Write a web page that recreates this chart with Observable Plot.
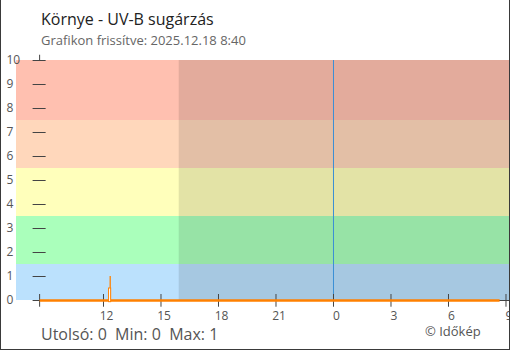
<!DOCTYPE html>
<html>
<head>
<meta charset="utf-8">
<script src="https://cdn.jsdelivr.net/npm/d3@7"></script>
<script src="https://cdn.jsdelivr.net/npm/@observablehq/plot@0.6"></script>
<style>
  html, body { margin: 0; padding: 0; background: #fff; }
  #wrap { position: relative; width: 510px; height: 350px; overflow: hidden; font-family: "Open Sans", sans-serif; }
  #chart { position: absolute; left: 0; top: 0; }
  .t { position: absolute; white-space: nowrap; line-height: 1em; }
  #title { left: 41px; top: 11px; font-size: 16px; color: #222; }
  #sub { left: 41px; top: 33.5px; font-size: 13px; color: #666; }
  #stats { left: 41px; top: 325.5px; font-size: 16px; color: #555; }
  #copy { left: 425px; top: 326px; font-size: 13px; line-height: 0.8em; color: #555; }
  #border { position: absolute; left: 0; top: 0; width: 510px; height: 350px; box-sizing: border-box;
            border-left: 1px solid #3a3a3a; border-right: 1px solid #3a3a3a; border-bottom: 1px solid #3a3a3a; pointer-events: none; }
</style>
</head>
<body>
<div id="wrap">
  <div id="chart"></div>
  <div class="t" id="title">Környe - UV-B sugárzás</div>
  <div class="t" id="sub">Grafikon frissítve: 2025.12.18 8:40</div>
  <div class="t" id="stats">Utolsó: 0&nbsp; Min: 0&nbsp; Max: 1</div>
  <div class="t" id="copy">© Időkép</div>
  <div id="border"></div>
</div>
<script>
// UV zones
const bandLow = [0, 1.5, 3.5, 5.5, 7.5];
const bandHigh = [1.5, 3.5, 5.5, 7.5, 10];
const bandColors = ["#bbe1fd", "#aaffbb", "#ffffbb", "#ffd7bb", "#ffc0b0"];

// time in hours since 2025.12.17 00:00
const domainStart = 7.461;
const domainEnd = 33.183;
const seriesStart = 8.667;   // 8:40
const nightStart = 15.95;    // darker shading begins
const midnight = 24;

// UV-B series (breakpoints)
const seriesHours = [8.667, 12.35, 32.667];
const seriesValues = [0, 1, 0];

// small bar
const barStart = [12.29];
const barEnd = [12.40];
const barValue = [0.5];

// ticks
const yTicks = [0, 1, 2, 3, 4, 5, 6, 7, 8, 9, 10];
const xTickHours = [12, 15, 18, 21, 24, 27, 30, 33];
const xTickLabels = ["12", "15", "18", "21", "0", "3", "6", "9"];

const bands = bandLow.map((lo, i) => ({lo, hi: bandHigh[i], color: bandColors[i]}));
const series = seriesHours.map((h, i) => ({h, v: seriesValues[i]}));
const bars = barStart.map((s, i) => ({s, e: barEnd[i], v: barValue[i]}));
const xTicks = xTickHours.map((h, i) => ({h, label: xTickLabels[i]}));

const axisColor = "#444";
const orange = "#ff8000";

const plot = Plot.plot({
  width: 510,
  height: 350,
  marginLeft: 16,
  marginRight: 1,
  marginTop: 60,
  marginBottom: 50,
  style: {fontFamily: "Open Sans, sans-serif", background: "transparent"},
  x: {domain: [domainStart, domainEnd], axis: null},
  y: {domain: [0, 10], axis: null},
  marks: [
    Plot.rect(bands, {x1: domainStart, x2: domainEnd, y1: "lo", y2: "hi", fill: "color"}),
    Plot.rect([0], {x1: nightStart, x2: domainEnd, y1: 0, y2: 10, fill: "black", fillOpacity: 0.11}),
    Plot.ruleX([midnight], {y1: 0, y2: 10, stroke: "#3b8fd5", strokeWidth: 1}),
    Plot.ruleY(yTicks, {y: d => d, x1: seriesStart - 0.34, x2: seriesStart + 0.34, stroke: axisColor}),
    Plot.ruleX([seriesStart], {x: d => d, y1: 10, y2: 10.22, stroke: axisColor}),
    Plot.ruleY([0], {x1: seriesStart, x2: domainEnd, stroke: axisColor}),
    Plot.ruleX([seriesStart, ...xTickHours], {x: d => d, y1: -0.28, y2: 0.25, stroke: axisColor}),
    // baseline of the series (zero readings)
    Plot.line(series.filter(d => d.v === 0), {x: "h", y: "v", stroke: orange, strokeWidth: 2.3, strokeLinecap: "butt"}),
    // non-zero readings as narrow spikes
    Plot.ruleX(series.filter(d => d.v > 0), {x: "h", y1: 0, y2: "v", stroke: orange, strokeWidth: 1.3}),
    Plot.rect(bars, {x1: "s", x2: "e", y1: -0.07, y2: "v", fill: "white", stroke: orange, strokeWidth: 1}),
    Plot.text(yTicks, {y: d => d, text: d => String(d), frameAnchor: "left", dx: -10, textAnchor: "start", lineAnchor: "middle", fontSize: 12, fill: "#555"}),
    Plot.text(xTicks, {x: "h", text: "label", frameAnchor: "bottom", dx: 3, dy: 11, lineAnchor: "top", fontSize: 12, fill: "#555"})
  ]
});
document.getElementById("chart").appendChild(plot);
</script>
</body>
</html>
